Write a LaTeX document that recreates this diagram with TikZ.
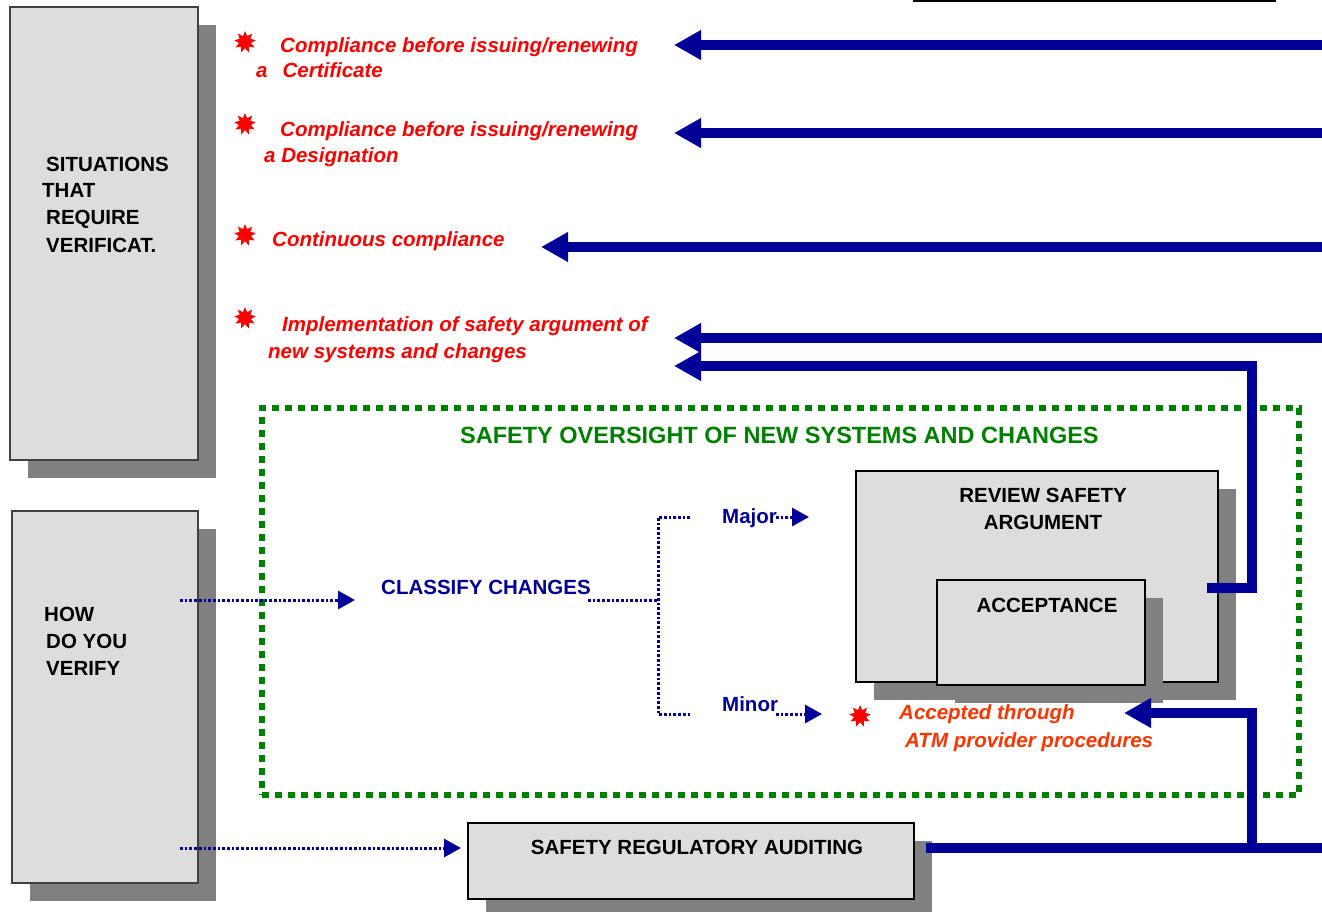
\documentclass[tikz,border=0pt]{standalone}
\usepackage{fontspec}
\setmainfont{Liberation Sans}
\usetikzlibrary{arrows.meta,shapes.geometric,shadows,positioning}

\definecolor{navy}{HTML}{000099}
\definecolor{boxgray}{HTML}{DDDDDD}
\definecolor{shadowgray}{HTML}{808080}
\definecolor{ovgreen}{HTML}{008000}
\definecolor{accorange}{HTML}{FF3300}

\begin{document}
\begin{tikzpicture}[
    x=1pt, y=-1pt,
    txt/.style={inner sep=0pt, font=\bfseries\fontsize{20.5}{26.5}\selectfont},
    boxtext/.style={txt, anchor=base west},
    reason/.style={txt, anchor=base west, text=red, font=\bfseries\itshape\fontsize{20.5}{26.5}\selectfont},
    graybox/.style={rectangle, draw=black, line width=1.5pt, fill=boxgray, anchor=north west, inner sep=0pt, outer sep=0pt,
        drop shadow={shadow xshift=18pt, shadow yshift=-18pt, fill=shadowgray, opacity=1}},
    burst/.style={star, star points=9, star point ratio=1.8, fill=red, draw=none, minimum size=22pt, inner sep=0pt},
    feed/.style={draw=navy, line width=9.5pt, -{Triangle[length=27pt, width=28pt]}},
    feedline/.style={draw=navy, line width=9.5pt},
    dotline/.style={draw=navy, line width=3pt, dash pattern=on 2.7pt off 2pt},
    dotarrow/.style={dotline, -{Triangle[length=17pt, width=18pt]}},
    frame/.style={rectangle, draw=ovgreen, line width=6pt, dash pattern=on 7pt off 6pt, anchor=north west, inner sep=0pt, outer sep=0pt}
]
\useasboundingbox (0,0) rectangle (1322,912);

% Oversight frame
\node[frame, minimum width=1037pt, minimum height=387pt] (oversight) at (262,408) {};
\node[txt, anchor=base west, text=ovgreen, font=\bfseries\fontsize{23.5}{28}\selectfont] (ovtitle) at (460,443) {SAFETY OVERSIGHT OF NEW SYSTEMS AND CHANGES};

% Left boxes
\node[graybox, draw=black!75, minimum width=188pt, minimum height=453pt] (situations) at (10,7) {};
\node[boxtext] (sit1) at (46,172) {SITUATIONS};
\node[boxtext] (sit2) at (42,198) {THAT};
\node[boxtext] (sit3) at (46,225) {REQUIRE};
\node[boxtext] (sit4) at (46,252) {VERIFICAT.};

\node[graybox, draw=black!75, minimum width=186pt, minimum height=372pt] (howverify) at (12,511) {};
\node[boxtext] (how1) at (44,621) {HOW};
\node[boxtext] (how2) at (46,648) {DO YOU};
\node[boxtext] (how3) at (46,675) {VERIFY};

% Review and acceptance
\node[graybox, minimum width=362pt, minimum height=211pt] (review) at (856,471) {};
\node[txt, anchor=base] (rev1) at (1043,502) {REVIEW SAFETY};
\node[txt, anchor=base] (rev2) at (1043,529) {ARGUMENT};
\node[graybox, minimum width=208pt, minimum height=105pt] (acceptance) at (937,580) {};
\node[txt, anchor=base] (acc) at (1047,612) {ACCEPTANCE};

% Auditing
\node[graybox, minimum width=446pt, minimum height=76pt] (audit) at (468,823) {};
\node[txt, anchor=base] (auditlbl) at (697,854) {SAFETY REGULATORY AUDITING};

% Situations
\draw[line width=2.5pt] (913,1) -- (1276,1);
\node[burst] (s1) at (245,42) {};
\node[reason] (cert1) at (280,53) {Compliance before issuing/renewing};
\node[reason] (cert2) at (256,78) {a\hspace{15pt}Certificate};
\node[burst] (s2) at (245,124) {};
\node[reason] (desig1) at (280,137) {Compliance before issuing/renewing};
\node[reason] (desig2) at (264,163) {a Designation};
\node[burst] (s3) at (245,235) {};
\node[reason] (cont) at (272,247) {Continuous compliance};
\node[burst] (s4) at (245,318) {};
\node[reason] (impl1) at (282,331) {Implementation of safety argument of};
\node[reason] (impl2) at (268,358) {new systems and changes};

% Classification
\node[txt, anchor=base west, text=navy] (classify) at (381,594) {CLASSIFY CHANGES};
\node[txt, anchor=base west, text=navy] (major) at (722,523) {Major};
\node[txt, anchor=base west, text=navy] (minor) at (722,711) {Minor};
\node[burst] (s5) at (860,716) {};
\node[reason, text=accorange] (acc1) at (899,719) {Accepted through};
\node[reason, text=accorange] (acc2) at (905,747) {ATM provider procedures};

% Connector ends
\coordinate (in1) at (1322,45);   \coordinate (tip1) at (674,45);
\coordinate (in2) at (1322,133);  \coordinate (tip2) at (674,133);
\coordinate (in3) at (1322,247);  \coordinate (tip3) at (541,247);
\coordinate (in4) at (1322,338);  \coordinate (tip4) at (674,338);
\coordinate (revout) at (1207,588); \coordinate (revbend) at (1252,366); \coordinate (tip5) at (674,366);
\coordinate (audout) at (926,848); \coordinate (audedge) at (1322,848);
\coordinate (audjoin) at (1252,848); \coordinate (tip6) at (1124,713);
\coordinate (howout) at (180,600); \coordinate (classtip) at (355,600);
\coordinate (howout2) at (180,848); \coordinate (audtip) at (461,848);
\coordinate (classout) at (588,600); \coordinate (fork) at (658,600);
\coordinate (forktop) at (690,517); \coordinate (forkbot) at (690,714);
\coordinate (majout) at (776,517); \coordinate (majtip) at (809,517);
\coordinate (minout) at (776,714); \coordinate (mintip) at (822,714);

% Thick feedback arrows
\draw[feed] (in1) -- (tip1);
\draw[feed] (in2) -- (tip2);
\draw[feed] (in3) -- (tip3);
\draw[feed] (in4) -- (tip4);
\draw[feed] (revout) -| (revbend) -- (tip5);
\draw[feedline] (audout) -- (audedge);
\draw[feed] (audjoin) |- (tip6);

% Dotted flow
\draw[dotarrow] (howout) -- (classtip);
\draw[dotarrow] (howout2) -- (audtip);
\draw[dotline] (classout) -- (fork);
\draw[dotline] (forktop) -| (fork) |- (forkbot);
\draw[dotarrow] (majout) -- (majtip);
\draw[dotarrow] (minout) -- (mintip);

\end{tikzpicture}
\end{document}
